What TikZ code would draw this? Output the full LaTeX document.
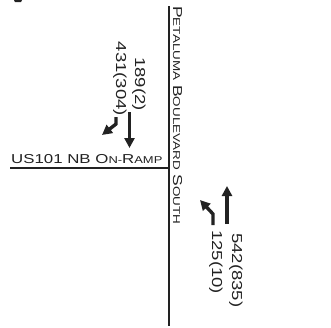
\documentclass[tikz,border=0pt]{standalone}
\usepackage{fontspec}
\setmainfont{Liberation Sans}
\usetikzlibrary{arrows.meta}
\definecolor{ink}{HTML}{222222}
% reduced capitals for the small-caps street names
\newcommand{\lowcap}[1]{{\fontsize{10}{12}\selectfont #1}}
\begin{document}
\begin{tikzpicture}[x=1bp,y=-1bp,
  road/.style={line width=2.4bp, draw=ink},
  move/.style={line width=3.4bp, draw=ink, line join=miter,
               -{Triangle[width=10bp,length=10bp]}},
  volume/.style={rotate=-90, inner sep=0, text=ink,
                 font=\fontsize{14.5}{16}\selectfont},
  street/.style={inner sep=0, text=ink, anchor=base west,
                 font=\fontsize{13}{15}\selectfont}]
\useasboundingbox (0,0) rectangle (331,328);

% stray mark at the top edge
\fill[ink] (14,0) -- (22,0) -- (21,2) -- (15,2) -- cycle;

% roads
\coordinate (pN) at (169,6);
\coordinate (pS) at (169,326);
\coordinate (rW) at (10,168);
\coordinate (rE) at (169,168);
\draw[road] (pN) -- (pS);
\draw[road] (rW) -- (rE);

% street names
\node[street] (ramp) at (11,163)
  {\scalebox{1.3}[1]{US101 NB O\lowcap{N-}R\lowcap{AMP}}};
\node[street, rotate=-90] (blvd) at (173,6)
  {\scalebox{1.35}[1]{P\lowcap{ETALUMA} B\lowcap{OULEVARD} S\lowcap{OUTH}}};

% southbound volumes
\node[volume, anchor=base east] (sbThru) at (135,111) {\scalebox{1.28}[1]{189(2)}};
\node[volume, anchor=base east] (sbRight) at (116,116) {\scalebox{1.28}[1]{431(304)}};
% northbound volumes
\node[volume, anchor=base west] (nbThru) at (232,233) {\scalebox{1.28}[1]{542(835)}};
\node[volume, anchor=base west] (nbLeft) at (212,230) {\scalebox{1.28}[1]{125(10)}};

% turning movement arrows
\coordinate (sbThruA) at (129.5,112);
\coordinate (sbThruB) at (129.5,148);
\draw[move] (sbThruA) -- (sbThruB);
\coordinate (sbRightA) at (116,117);
\coordinate (sbRightK) at (116,124);
\coordinate (sbRightB) at (102,135);
\draw[move] (sbRightA) -- (sbRightK) -- (sbRightB);
\coordinate (nbThruA) at (227,224);
\coordinate (nbThruB) at (227,186);
\draw[move] (nbThruA) -- (nbThruB);
\coordinate (nbLeftA) at (213,225);
\coordinate (nbLeftK) at (213,214);
\coordinate (nbLeftB) at (200,200);
\draw[move] (nbLeftA) -- (nbLeftK) -- (nbLeftB);
\end{tikzpicture}
\end{document}
